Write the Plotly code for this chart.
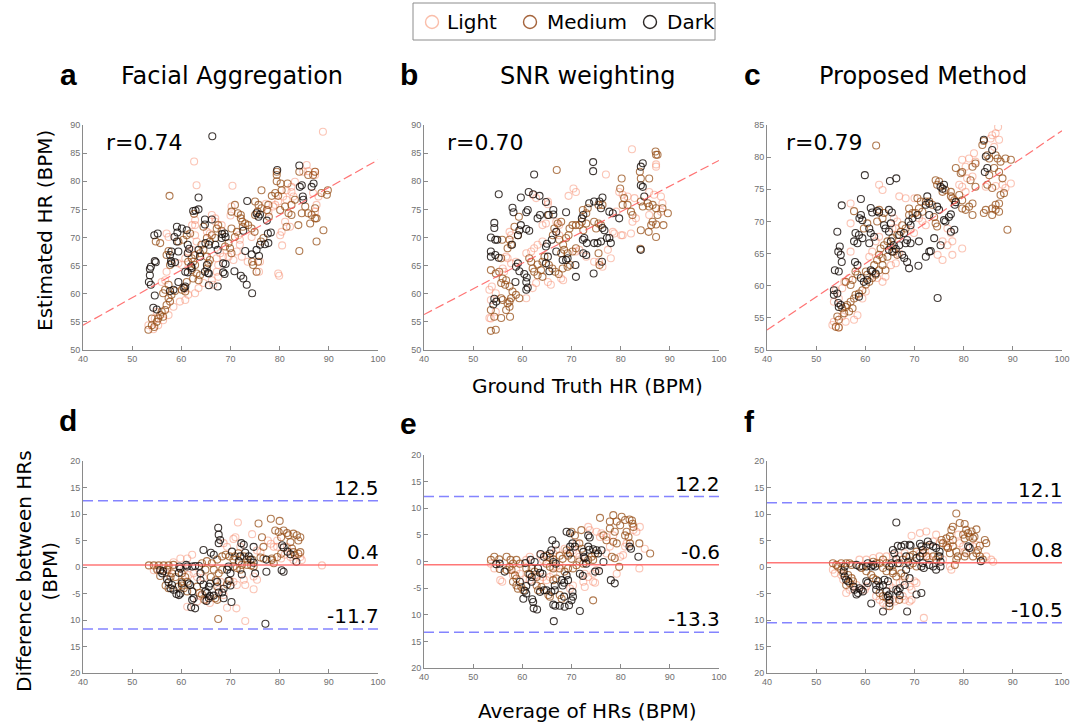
import plotly.graph_objects as go

# ---------------- data ----------------
GROUPS = ["Light", "Medium", "Dark"]
XTICKS = [40, 50, 60, 70, 80, 90, 100]
R_TEXT = ["r=0.74", "r=0.70", "r=0.79"]
TITLES = ["Facial Aggregation", "SNR weighting", "Proposed Method"]
LETTERS = ["a", "b", "c", "d", "e", "f"]
REG_X = [40, 100]
A_REG = [54.4, 83.8]
B_REG = [56.3, 83.7]
C_REG = [53.1, 84.1]
D_BA = [12.5, 0.4, -11.7]
E_BA = [12.2, -0.6, -13.3]
F_BA = [12.1, 0.8, -10.5]
BA_YTICKS = [20, 15, 10, 5, 0, -5, -10, -15, -20]
BA_YTEXT = ["20", "15", "10", "5", "0", "-5", "10", "15", "20"]

A_DARK = [(66.3,88.0),(63.5,77.1),(63.5,75.0),(62.4,74.7),(62.9,74.8),(64.8,73.2),(64.8,72.3),(66.2,73.2),
(55.2,70.7),(54.5,70.4),(59.1,71.9),(60.1,71.6),(61.1,71.3),(59.2,70.9),(58.6,70.1),(59.1,69.3),
(58.0,67.5),(59.4,67.5),(57.7,66.9),(61.3,68.7),(61.6,68.0),(61.3,67.2),(64.9,69.0),(65.6,68.7),
(68.8,70.7),(69.0,70.1),(72.6,71.2),(75.3,74.3),(75.7,73.7),(76.0,74.1),(77.6,70.7),(78.2,70.9),
(77.7,69.0),(77.0,68.8),(76.0,68.7),(73.0,67.6),(74.3,67.0),(75.3,67.8),(75.8,66.7),
(70.8,64.0),(72.1,63.2),(72.6,62.7),(74.4,60.1),(73.3,61.6),(68.5,65.4),(68.5,63.8),(68.8,63.5),
(67.4,61.3),(65.2,65.1),(64.8,63.9),(65.6,63.6),(60.8,63.9),(61.3,63.8),(62.1,64.6),(60.6,61.0),(60.8,61.3),
(53.8,64.8),(53.6,64.4),(54.6,65.8),(54.8,65.6),(53.6,63.3),(53.4,62.1),(53.8,61.6),(54.6,59.7),(54.3,57.5),(55.0,57.2),
(57.7,60.5),(58.4,60.7),(57.9,65.8),(58.0,65.4),(58.7,65.6),(59.4,62.1),(63.5,67.8),(63.8,66.6),(66.9,68.7),(67.4,67.8),
(68.2,69.9),(68.3,70.6),(84.5,79.3),(84.1,79.0),(86.5,79.0),(86.9,79.6),(84.7,77.3),(84.8,76.7),(84.0,82.8),
(73.4,76.5),(77.4,73.0),(79.5,82.0),(62.0,64.9),(65.4,63.7),(65.6,61.5),(69.0,65.3)]
A_MED = [(57.6,77.4),(62.6,74.2),(76.3,78.4),(78.4,77.4),(79.1,77.9),(79.4,81.7),(79.4,81.1),(79.4,80.0),
(81.6,79.6),(84.0,81.7),(85.8,81.1),(86.8,81.1),(87.2,81.7),(88.5,77.9),(89.6,77.6),(89.8,78.4),
(87.2,75.2),(86.5,74.0),(85.8,74.3),(87.2,73.4),(86.2,72.5),(87.5,73.4),(87.5,69.3),(84.0,67.6),(88.9,71.3),
(83.8,72.2),(82.4,74.0),(81.4,71.9),(84.5,74.3),(85.2,75.5),(80.1,74.9),(81.1,75.5),(81.8,74.3),(82.4,75.8),(83.1,76.7),
(80.2,79.6),(80.4,78.4),(79.7,77.4),(76.3,75.2),(75.7,75.8),(75.0,76.4),(75.5,74.6),(75.0,74.0),
(72.1,73.4),(72.4,72.8),(73.0,72.5),(72.5,71.9),(72.1,74.0),(71.3,71.0),(70.9,70.1),(70.2,71.6),
(69.6,69.0),(68.9,68.4),(69.9,68.1),(70.2,67.2),(67.2,71.6),(67.5,72.2),(68.2,71.2),
(66.9,69.9),(65.8,69.3),(66.2,70.4),(65.2,69.9),(64.1,68.7),(64.5,67.8),(63.8,67.2),(62.8,66.9),
(65.2,66.6),(65.8,66.0),(65.5,65.4),(65.2,64.5),(62.1,66.3),(62.4,65.7),(61.4,65.7),(62.8,65.1),(62.1,64.2),
(63.1,63.6),(63.8,63.3),(62.4,62.7),(63.5,62.4),(61.1,62.1),(60.4,61.1),(60.1,60.7),(60.8,60.4),
(58.7,60.5),(58.0,59.8),(57.4,59.2),(57.7,58.6),(57.0,58.0),(56.7,57.1),(56.0,56.8),(55.7,56.2),(56.3,55.9),(55.3,55.6),(55.0,55.0),
(54.0,55.6),(54.0,54.4),(54.5,54.1),(53.3,53.6),(56.3,60.1),(56.7,60.7),(57.4,61.6),
(57.4,67.6),(57.0,66.9),(57.7,65.1),(54.8,69.3),(55.7,69.0),(59.4,69.3),(60.4,69.6),(61.1,70.4),(61.8,70.7),
(64.5,71.9),(70.9,75.8),(71.5,74.3),(70.2,74.6),(73.6,72.2),(74.3,71.6),(74.9,71.0),
(77.7,75.8),(77.4,74.9),(77.8,73.7),(74.6,65.1),(74.4,65.7),(75.6,65.7),(75.3,63.9),(76.2,69.3),(76.7,69.9)]
A_LIGHT = [(88.8,88.8),(62.6,83.5),(63.1,79.3),(70.4,79.2),(70.2,75.5),(70.0,73.9),(66.2,74.0),(66.9,73.4),
(62.8,73.1),(62.2,72.2),(62.8,72.2),(57.0,70.7),(57.4,70.1),(79.7,63.6),(79.9,63.2),(75.8,63.9),(76.0,65.7),
(80.1,70.4),(80.4,71.0),(79.7,76.4),(80.7,77.3),(81.4,76.7),(81.4,78.4),(82.4,79.0),(83.1,79.9),
(85.5,82.9),(84.8,81.7),(85.8,81.8),(87.2,81.7),(87.2,81.1),(86.8,77.9),(87.9,77.3),(87.5,75.8),(87.2,74.6),
(82.4,78.1),(82.8,77.3),(82.1,71.9),(81.1,72.8),(78.7,75.5),(79.1,75.8),(77.2,76.0),(77.7,74.6),
(74.3,70.1),(71.9,69.6),(71.9,68.7),(71.6,70.4),(71.3,67.5),(72.3,66.6),(73.5,65.7),(69.6,66.6),(70.6,66.0),
(67.9,67.2),(68.5,66.6),(67.2,66.3),(67.5,65.1),(67.2,63.9),(67.5,63.0),(66.2,62.4),(66.5,61.6),
(64.5,61.9),(63.5,61.0),(62.8,60.1),(61.4,59.8),(60.8,58.9),(59.7,58.6),(58.4,57.7),(57.4,56.2),(56.3,55.3),
(55.3,54.4),(54.3,53.7),(53.3,54.4),(54.6,55.6),(55.0,56.8),(56.0,62.1),(56.7,62.4),(57.0,63.9),
(60.1,65.1),(60.8,66.3),(59.4,65.4),(61.4,67.5),(62.1,67.8),(63.1,69.3),(62.8,70.4),(65.2,71.0),(65.8,70.7),
(66.9,72.8),(68.2,72.2),(80.5,68.6)]

B_DARK = [(62.4,81.2),(55.2,77.7),(58.0,75.3),(58.2,74.5),(59.7,77.1),(61.3,78.1),(62.2,77.7),(63.5,77.4),(64.8,76.3),
(65.2,74.0),(66.3,74.1),(66.3,74.9),(68.9,74.5),(63.6,74.0),(63.1,73.4),(61.1,74.9),(60.8,74.5),
(59.7,72.2),(59.4,71.3),(60.8,71.5),(61.4,71.2),(59.1,70.4),(54.3,72.6),(54.3,71.7),(53.6,70.0),(54.5,69.6),(54.9,69.6),
(53.6,67.5),(54.5,66.9),(55.2,66.4),(53.6,66.6),(57.9,68.7),(59.1,65.4),(58.7,64.8),(59.4,64.0),
(60.4,63.5),(60.9,62.9),(60.8,62.1),(61.1,61.1),(60.8,60.7),(58.6,62.1),(54.3,59.1),(54.7,58.6),(54.1,58.1),
(65.0,68.9),(64.8,68.4),(65.2,66.6),(64.8,65.4),(65.5,64.0),(66.9,71.0),(66.0,69.6),(66.9,67.5),
(68.2,66.0),(68.9,66.0),(69.2,66.3),(70.9,63.0),(70.8,65.1),(72.4,74.0),(72.1,73.4),(72.6,69.9),(73.1,69.0),(72.3,69.6),
(72.4,67.2),(73.0,66.9),(74.5,63.6),(74.6,69.0),(75.3,69.0),(76.0,69.3),(76.2,65.7),(76.3,77.1),(75.7,76.4),(76.0,75.2),
(76.3,71.7),(76.7,71.3),(77.2,69.9),(77.7,69.9),(78.0,69.0),(77.7,74.6),(78.4,74.3),(73.6,76.1),(74.6,76.4),
(74.4,83.4),(74.4,81.8),(84.5,83.2),(84.1,82.6),(84.1,79.3),(84.5,79.0),(84.8,77.3),(79.7,73.4),(84.1,67.8)]
B_MED = [(67.0,82.0),(65.4,74.0),(58.4,71.9),(59.1,70.4),(57.4,69.6),(57.0,68.1),(57.7,68.7),(55.7,66.3),
(53.6,64.2),(54.6,63.6),(55.3,63.9),(56.0,62.7),(55.7,61.9),(56.7,62.4),(56.5,61.6),(57.4,61.3),
(58.0,60.4),(58.7,59.8),(59.4,59.2),(55.7,59.2),(56.0,58.9),(57.0,58.3),(57.7,59.2),(57.4,58.6),
(56.7,57.1),(57.4,57.7),(57.5,55.9),(55.7,55.7),(54.3,55.9),(53.6,57.1),(53.6,53.4),(54.6,53.6),
(61.4,66.3),(61.8,65.7),(62.1,64.5),(62.4,63.9),(63.1,63.3),(63.8,64.2),(64.1,63.0),(63.1,65.2),(64.1,65.7),(64.5,66.6),
(66.2,70.4),(66.5,71.6),(67.2,72.5),(67.9,72.8),(67.5,69.6),(68.3,68.7),(68.9,69.9),(69.4,70.4),
(69.6,71.6),(70.2,72.2),(70.9,72.2),(67.9,67.2),(68.5,67.8),(69.2,67.2),(71.6,72.2),(72.1,72.8),(73.0,72.5),(72.4,71.3),
(73.0,74.3),(73.3,75.2),(72.3,74.9),(75.0,71.6),(75.5,72.5),(76.0,72.2),(74.6,72.8),(76.3,75.8),(75.5,75.8),
(80.4,75.8),(80.7,77.0),(81.4,75.8),(82.1,74.6),(82.4,74.0),(84.1,76.4),(84.5,75.5),(85.5,76.1),(85.8,75.5),(86.5,75.8),
(87.2,84.7),(87.5,84.7),(87.1,85.3),(85.8,80.5),(84.1,80.5),(83.9,81.7),(87.2,75.2),(87.5,74.0),(86.5,72.8),(87.2,72.3),(86.2,72.2),
(88.5,75.2),(89.6,74.3),(88.7,72.2),(87.2,70.1),(84.1,71.3),(85.7,71.0),(80.2,80.5),(79.9,78.7),
(65.4,65.1),(66.1,64.5),(66.7,63.9),(67.4,63.5),(68.2,64.5),(69.2,64.8),(69.7,65.1),(70.2,67.5),(70.9,68.1),
(75.5,67.2),(75.7,65.1),(84.0,68.0),(59.3,73.7),(55.9,69.6)]
B_LIGHT = [(82.3,85.7),(87.2,82.6),(87.2,83.0),(77.0,81.2),(70.4,78.7),(70.9,78.1),(69.4,77.4),(65.2,76.4),(65.2,75.9),
(64.8,72.5),(64.1,72.2),(62.1,77.6),(62.8,77.0),(79.7,78.1),(80.4,77.6),(79.1,74.6),(80.4,70.4),(80.1,70.4),(82.1,70.7),
(78.4,71.0),(78.7,70.7),(78.0,66.3),(76.3,64.8),(74.6,65.7),(75.6,65.7),(73.0,66.6),(77.4,67.8),(70.9,67.5),(71.6,67.8),
(67.5,70.4),(66.9,71.0),(64.1,69.3),(63.1,68.7),(61.8,67.5),(62.4,68.1),(60.8,67.2),(58.7,65.7),(57.7,65.4),(57.0,66.3),(56.7,66.6),
(57.4,71.0),(57.7,70.4),(56.0,64.5),(56.3,63.9),(53.8,61.3),(53.3,60.7),(54.6,60.1),(53.6,58.9),(53.6,55.6),(53.3,55.7),(54.6,56.8),
(62.1,61.0),(62.8,61.9),(60.8,59.2),(65.2,62.1),(65.8,61.6),(67.9,62.7),(68.3,62.4),(67.5,72.2),(66.9,72.8),
(82.4,72.8),(83.1,73.4),(85.8,78.1),(86.8,77.6),(88.2,77.3),(88.5,76.1),(88.2,74.6),(85.8,74.0),(81.4,77.3),(82.8,77.0)]

C_DARK = [(74.7,58.1),(59.9,77.2),(65.0,76.3),(66.3,76.7),(55.2,72.5),(59.1,73.5),(84.1,82.7),(85.8,81.1),(84.5,80.1),(84.8,78.3),(84.3,77.7),
(75.3,75.4),(75.7,75.1),(76.0,75.7),(72.6,73.9),(73.0,72.8),(72.3,72.6),(69.6,70.5),(70.6,71.0),(68.8,70.0),(69.2,69.4),
(64.8,71.8),(65.4,71.4),(62.4,71.6),(62.8,71.4),(61.1,72.1),(61.4,71.4),(59.1,71.0),(58.8,70.5),(59.4,70.2),
(58.0,68.2),(57.7,66.9),(58.4,66.6),(58.7,67.9),(59.4,67.4),(60.8,68.9),(61.1,68.2),(61.8,67.6),(60.8,66.6),
(54.3,68.4),(54.8,66.1),(54.5,65.3),(55.0,64.8),(55.2,63.7),(53.8,62.4),(54.6,62.2),(53.6,59.3),(54.3,58.8),(53.6,58.6),
(54.5,57.3),(55.0,57.0),(54.6,56.7),(57.9,63.7),(58.4,63.2),(59.1,61.2),(59.7,60.6),(60.4,60.9),(58.7,58.3),
(61.1,62.4),(61.4,62.2),(62.1,61.9),(65.2,66.9),(65.8,66.3),(64.8,65.6),(65.5,65.3),(66.2,65.7),(66.9,66.3),
(66.9,67.9),(67.9,68.2),(67.5,64.8),(67.9,64.3),(68.5,63.7),(68.9,62.7),(68.5,67.1),(69.2,66.6),(68.2,66.6),
(70.8,63.1),(70.9,66.9),(73.0,65.3),(73.3,65.4),(72.3,64.5),(74.0,67.4),(76.3,70.0),(76.0,70.2),(75.3,66.3),
(77.4,68.4),(78.1,68.7),(77.0,70.7),(77.4,71.1),(78.2,72.6),(78.4,73.0),(74.6,72.3),(75.0,71.8),(73.0,71.0),
(63.8,69.4),(64.1,68.9),(64.8,68.4),(65.2,69.7)]
C_MED = [(62.2,81.8),(74.3,76.4),(75.0,76.2),(74.6,75.7),(75.7,74.6),(76.3,74.9),(77.4,74.6),(77.4,73.9),
(73.0,73.1),(73.6,72.6),(72.3,73.1),(70.9,72.0),(71.6,71.5),(70.2,71.3),(68.9,71.0),(69.6,71.3),
(67.5,69.4),(68.2,68.9),(67.2,68.4),(66.5,67.9),(65.5,67.4),(64.5,66.9),(63.8,66.3),(63.1,65.8),
(65.2,66.1),(65.8,65.3),(66.5,64.8),(64.5,64.5),(62.8,64.8),(63.5,64.3),(62.4,64.0),(61.8,63.2),
(63.5,63.2),(64.1,62.4),(62.8,62.4),(62.1,61.7),(61.4,61.2),(60.8,60.6),(60.1,60.2),(60.1,62.2),(60.4,61.7),
(59.4,59.3),(58.7,58.8),(58.0,58.6),(57.7,58.0),(57.0,57.5),(56.3,57.0),(56.0,56.7),(55.3,56.5),
(57.4,56.5),(56.7,56.0),(55.7,55.7),(54.3,55.2),(54.6,54.7),(54.0,53.6),(54.6,53.5),
(56.0,60.6),(57.0,60.1),(57.4,60.9),(58.0,62.2),(58.4,61.7),(57.7,71.6),(62.8,71.8),(63.8,71.3),(62.4,70.0),(63.5,70.5),
(59.7,68.9),(60.4,69.7),(70.6,73.6),(71.3,73.1),(68.9,72.0),(74.0,70.7),(74.3,69.7),(74.6,69.2),
(77.7,73.6),(78.1,73.3),(79.1,74.1),(79.7,73.3),(78.4,78.3),(79.4,77.5),(79.7,77.7),(81.8,78.5),(82.4,79.0),
(83.8,81.9),(84.1,82.5),(84.8,80.3),(85.2,79.8),(86.5,80.3),(86.9,79.8),(87.5,79.3),(88.5,79.8),(89.6,79.6),
(85.2,77.2),(86.2,78.3),(87.2,77.7),(87.9,76.7),(84.1,71.3),(84.5,71.8),(85.8,72.0),(86.5,71.8),
(87.2,72.8),(87.2,71.5),(86.5,72.6),(85.8,71.0),(87.5,74.1),(88.2,74.4),(81.8,72.8),(81.1,72.3),(81.8,71.0),(80.4,71.8),(79.7,72.0),
(88.9,68.7),(82.4,75.4),(81.4,76.4),(84.8,75.7),(85.8,75.2)]
C_LIGHT = [(87.0,84.7),(87.2,82.7),(86.5,83.7),(85.8,83.4),(62.8,75.7),(63.5,74.9),(66.9,73.9),(68.2,73.6),(57.0,72.8),(57.0,69.7),
(76.7,68.9),(77.4,68.2),(77.7,66.9),(77.7,64.8),(79.7,65.8),(74.7,64.8),(75.7,64.0),
(79.7,79.6),(81.1,79.8),(82.1,80.6),(82.4,79.3),(80.4,78.5),(80.7,76.7),(81.8,77.0),(79.1,75.7),(79.7,75.4),(80.4,74.6),
(85.5,82.9),(86.2,81.6),(87.9,75.7),(88.5,75.2),(89.6,75.9),(86.5,75.5),(84.5,75.4),
(70.9,70.5),(71.6,70.0),(72.3,69.4),(69.2,68.7),(69.9,68.2),(65.8,70.5),(66.5,70.0),(66.2,68.9),(65.5,68.9),
(62.8,67.6),(62.1,66.9),(61.4,65.3),(60.8,64.5),(62.4,61.2),(63.5,60.6),(64.1,61.4),(65.2,63.2),(66.2,63.5),
(60.1,59.1),(59.4,58.0),(57.0,65.3),(56.7,61.2),(55.7,60.6),(55.3,59.6),(54.0,59.3),(54.6,58.0),(53.6,57.5),
(53.3,53.9),(54.6,53.5),(53.6,54.4),(56.0,54.4),(55.3,55.2),(58.4,55.4),(57.7,54.7),(66.9,65.0),(75.7,66.9),(76.7,66.3),
(70.0,73.6)]

D_DARK = [(67.5,7.4),(67.6,6.1),(67.9,5.1),(67.6,4.5),(64.5,3.2),(66.0,2.7),(66.6,2.3),(70.3,2.9),
(72.2,4.5),(72.7,4.2),(73.0,2.7),(72.0,2.0),(74.7,3.8),(73.7,2.0),(74.1,1.4),(74.7,0.8),(75.0,-1.2),
(77.3,1.4),(77.3,-0.9),(80.5,4.1),(80.8,3.7),(80.8,-0.9),(80.4,-0.6),(81.6,2.9),(82.2,2.4),(83.4,1.0),
(69.3,-0.5),(70.0,-1.2),(69.6,0.1),(69.6,-2.6),(70.0,-3.5),(68.6,-4.1),(68.3,-4.8),(68.6,-5.9),(70.2,-6.6),
(67.6,-4.8),(66.6,-5.4),(67.3,-2.8),(65.9,-3.1),(65.6,-3.7),(64.5,-3.3),(64.9,-4.6),(65.2,-4.9),
(65.8,-5.5),(65.6,-5.9),(65.1,-6.4),(62.5,-5.9),(62.2,-6.2),(62.0,-7.6),(62.8,-7.8),
(61.8,-3.4),(62.2,-4.6),(61.5,-3.1),(60.1,-3.1),(59.8,-5.0),(59.5,-5.3),(59.0,-5.1),(58.4,-4.3),(57.8,-4.0),
(57.1,-2.3),(57.4,-2.9),(58.1,-3.4),(56.1,-1.2),(56.3,-0.8),(55.7,-0.6),(59.5,-1.1),(59.8,-0.3),
(61.2,0.1),(62.2,0.1),(62.8,0.2),(61.0,0.4),(63.9,-1.2),(63.9,-2.5),(72.3,-1.4),(71.7,1.1),(77.1,-10.7),
(59.6,0.1),(63.6,0.2)]
D_MED = [(53.4,0.3),(54.4,0.3),(55.4,0.3),(56.4,0.3),(57.4,0.3),(58.4,0.4),(57.1,-0.5),(58.1,-1.2),(58.8,-1.9),(57.8,-1.9),
(60.1,-1.2),(60.8,-1.9),(60.1,-2.8),(61.2,-2.8),(60.5,-4.0),(61.2,-4.6),(63.2,-3.7),(63.7,-4.9),
(64.2,0.7),(65.2,1.1),(66.2,0.7),(67.3,1.4),(64.9,-0.5),(66.6,-0.5),(67.6,-1.2),(68.3,-0.5),(66.0,-1.9),(67.0,-2.5),
(68.3,2.0),(69.0,2.3),(69.8,2.0),(70.6,1.4),(70.9,2.0),(71.6,2.6),(72.7,2.0),(73.4,1.4),(74.4,1.4),(72.3,0.4),
(73.4,0.4),(74.2,0.3),(74.7,0.1),(70.6,0.1),(71.3,-0.2),(72.0,-0.5),
(75.7,8.2),(78.2,9.1),(80.0,8.7),(79.1,6.9),(79.8,6.6),(80.3,5.6),(80.8,6.9),(81.5,6.4),(81.8,6.0),(82.8,6.3),
(83.5,6.0),(84.2,5.6),(83.8,5.0),(82.2,4.7),(82.5,3.5),(82.8,2.8),(83.1,2.2),(83.8,2.5),(84.2,2.8),
(80.3,2.5),(79.5,1.9),(78.4,1.6),(78.4,1.3),(78.8,0.7),(76.4,5.6),(76.7,3.8),(76.1,1.8),(76.7,1.6),
(69.8,-2.6),(69.3,-3.3),(67.5,-9.8),(67.3,-6.2),(66.9,-5.9),(67.3,-3.7),(64.2,-5.2),(64.7,-6.2),(60.1,-3.5),(59.4,-3.7),
(55.1,-0.5),(55.7,-1.7),(56.8,-3.5),(57.4,-4.0)]
D_LIGHT = [(88.6,0.3),(71.5,8.4),(73.0,-10.2),(69.3,-7.7),(71.2,-7.8),(74.7,-4.2),(74.4,6.2),(70.6,5.3),(71.0,5.6),(72.0,3.8),
(68.6,4.5),(69.3,3.8),(77.6,5.0),(78.2,4.4),(78.8,3.8),(75.4,3.1),(76.1,2.8),(79.5,5.0),(79.5,3.8),
(84.2,1.9),(84.5,1.3),(81.5,3.8),(82.2,1.9),(82.8,1.3),(80.3,1.6),(81.0,2.3),
(74.7,-1.8),(75.4,-2.4),(72.7,-2.4),(73.0,-3.4),(70.6,-2.8),(71.3,-3.4),(68.0,-2.8),(67.6,-4.3),(68.6,-5.3),
(65.8,-6.8),(65.2,-6.2),(63.2,-6.5),(63.9,-5.5),(61.2,-7.5),(60.5,-0.5),(61.5,-1.5),(57.1,-1.2),(57.4,-0.5),
(58.4,0.9),(59.8,1.6),(61.2,1.6),(62.2,2.3),(55.1,-0.3),(54.4,-0.6),(62.5,-1.2),(63.2,-1.9),(64.5,-2.0)]

E_DARK = [(66.4,-11.2),(71.7,-9.3),(67.6,-8.3),(68.6,-8.5),(66.3,-8.1),(66.7,-8.3),(69.5,-8.2),(70.0,-7.3),(70.3,-6.6),(70.2,-5.7),
(68.5,-6.6),(66.6,-4.5),(66.6,-5.4),(65.9,-5.7),(64.9,-5.4),(64.4,-5.4),(63.6,-5.7),(63.0,-9.0),(62.3,-8.8),
(62.0,-7.1),(62.2,-7.6),(60.5,-5.5),(60.8,-6.0),(60.2,-7.0),(59.5,-3.8),(60.8,-4.6),(61.5,-2.4),(61.9,-2.9),(61.9,-3.8),
(63.2,-1.3),(63.6,-2.1),(64.1,-2.3),(56.4,-1.9),(54.7,-0.5),(55.4,-0.4),(60.6,-0.3),(61.7,0.3),(62.5,-0.1),
(63.7,1.4),(64.4,0.9),(65.6,1.5),(65.9,2.1),(66.3,-0.1),(66.8,-0.4),(68.0,-3.5),(68.5,-4.0),(68.2,-4.5),
(69.0,-2.6),(69.3,-3.5),(66.1,4.0),(66.8,3.2),(69.0,5.6),(69.7,5.3),(70.2,3.4),(70.7,2.8),(69.7,2.8),(69.7,1.5),
(72.4,1.8),(72.5,0.9),(73.4,4.9),(73.7,4.5),(73.4,2.8),(73.6,2.2),(72.7,0.6),(73.0,-0.4),(75.1,2.1),(75.4,1.5),
(76.1,2.1),(76.5,-0.1),(75.6,-1.8),(74.8,-1.9),(71.7,-2.3),(72.3,-2.7),(78.0,-3.5),(78.8,-4.1),(83.6,0.9),
(81.8,2.8),(82.1,2.4),(74.4,2.3)]
E_MED = [(75.8,8.2),(78.5,8.7),(80.2,8.4),(80.9,7.8),(81.8,7.9),(82.3,7.7),(82.4,7.1),(82.6,6.5),(77.8,7.5),(79.2,7.5),(79.9,6.8),
(77.8,6.2),(78.8,5.6),(81.2,5.6),(80.9,4.9),(81.6,4.6),(81.9,3.4),(76.5,4.9),(77.1,4.0),(78.5,3.7),(79.2,3.4),
(78.2,0.9),(78.8,0.6),(79.7,-1.0),(86.0,1.5),(83.8,3.4),(74.4,-7.3),(70.0,5.6),(70.7,4.9),(72.0,5.9),(71.6,3.4),(72.1,2.4),
(69.0,2.1),(69.3,1.1),(70.0,0.5),(67.6,1.1),(68.2,0.5),(64.9,1.1),(65.6,0.7),(66.3,0.4),(64.9,-0.4),(65.6,-1.0),(66.3,-1.3),
(67.6,-1.3),(68.6,-1.9),(69.3,-1.3),(70.3,-1.3),(71.0,-0.7),(71.6,0.0),(72.4,-0.4),(73.4,0.3),(74.1,0.9),(74.4,0.3),(74.8,1.5),
(53.6,0.3),(54.3,0.9),(55.3,0.4),(56.8,0.9),(57.6,0.3),(58.1,-0.4),(58.8,0.3),(59.5,-0.4),(57.4,-1.0),(57.8,-1.6),
(58.5,-2.6),(58.8,-3.2),(58.1,-3.8),(58.8,-4.5),(59.1,-5.1),(59.8,-4.8),(60.2,-5.4),(56.8,-1.6),(55.4,-1.4),
(62.9,-4.5),(63.2,-5.4),(63.9,-4.8),(65.3,-6.3),(65.6,-6.6),(67.6,-6.3),(68.0,-7.0),(66.9,-3.2),(66.3,-3.5),
(61.9,-1.3),(62.5,-1.9),(62.9,-2.9),(60.8,-1.3),(61.2,-2.3)]
E_LIGHT = [(73.4,6.5),(73.7,5.9),(75.1,5.6),(76.1,5.3),(75.8,4.6),(77.1,4.6),(78.5,4.9),(82.6,5.9),(83.2,5.6),(83.9,6.5),
(83.8,-1.3),(84.9,2.4),(81.2,3.4),(80.9,2.8),(79.2,-2.3),(79.9,0.9),(80.5,1.2),(77.8,2.8),(77.1,1.5),
(74.4,-3.8),(74.8,-4.0),(73.4,-2.9),(72.7,-2.3),(71.6,0.9),(71.0,1.5),(70.3,2.1),(71.0,3.4),(69.0,1.5),(68.6,2.4),
(66.9,-1.0),(67.6,-0.7),(66.3,-2.3),(65.6,-2.9),(64.9,-3.5),(64.2,-2.9),(63.6,-3.5),(62.9,-2.6),(61.5,-3.5),(60.8,-3.2),
(59.5,-2.3),(58.8,-1.6),(58.1,-2.6),(55.9,-3.8),(55.5,-3.5),(53.6,-0.4),(54.3,-1.3),(60.8,0.3),(61.5,0.9),
(64.2,0.3),(63.6,1.2),(66.3,1.5),(66.9,2.1),(74.4,-2.3),(75.1,-1.6),(72.7,-4.8),(72.4,-3.8),(70.3,-4.5),(69.7,-5.1)]

F_DARK = [(66.3,8.4),(61.2,-6.9),(63.6,-8.4),(68.5,-8.4),(70.4,-5.2),(71.4,-4.9),(68.0,-3.4),(67.0,-4.0),(66.3,-4.3),(66.6,-4.6),(67.0,-5.3),
(64.9,-5.2),(64.6,-5.5),(64.3,-4.6),(64.9,-6.2),(64.9,-6.8),(63.6,-3.4),(62.9,-3.7),(62.2,-4.3),(62.2,-3.4),(62.6,-2.7),
(63.9,-2.4),(64.6,-2.7),(59.5,-4.6),(59.2,-4.3),(58.8,-4.0),(57.8,-4.3),(58.5,-4.9),(57.6,-3.7),(58.2,-5.2),
(55.6,-0.8),(55.8,-1.8),(56.1,-2.4),(56.5,-2.7),(55.8,0.1),(58.2,0.4),(58.8,0.1),(60.2,0.1),(60.5,0.7),(61.2,0.1),
(61.6,0.4),(62.0,0.1),(60.2,-2.7),(60.5,-3.0),(64.9,0.1),(65.3,0.7),(65.6,3.2),(65.9,2.6),(66.6,4.0),(67.3,3.9),(68.0,4.2),(69.0,4.2),
(69.2,4.0),(66.3,1.5),(66.6,0.7),(68.3,2.0),(68.7,1.0),(71.1,4.4),(71.4,3.9),(71.7,3.2),(72.7,4.8),(73.1,4.2),
(73.8,3.9),(74.4,3.6),(75.1,2.9),(75.1,2.0),(75.3,1.0),(75.3,0.1),(73.0,0.4),(73.8,0.1),(74.4,-0.5),(71.4,0.1),(71.7,0.7),
(70.4,1.7),(71.1,2.0),(80.9,3.9),(81.2,3.6),(83.5,1.1),(69.0,-2.1),(68.3,-0.5),(71.9,-0.2)]
F_MED = [(78.5,10.1),(79.2,8.3),(80.2,8.1),(77.8,7.6),(77.5,7.0),(80.5,7.0),(80.9,6.4),(81.6,6.7),(82.6,7.1),(79.9,6.1),(80.2,5.4),
(81.2,5.7),(81.9,5.4),(82.2,5.7),(76.5,5.4),(77.2,5.8),(77.8,5.1),(84.3,5.1),(84.6,4.5),(83.3,4.0),(82.9,3.2),
(82.6,2.6),(81.9,2.0),(80.5,2.6),(80.2,2.0),(78.5,2.9),(78.8,2.0),(77.2,2.6),(76.8,3.6),(77.8,3.9),(78.2,0.4),(78.5,1.4),
(83.3,2.0),(83.9,1.4),(75.5,5.1),(75.8,4.5),(76.5,3.9),(72.4,3.9),(71.7,2.6),(72.4,2.0),(73.8,2.0),(74.4,1.4),(74.8,2.0),
(70.4,2.9),(69.7,2.3),(69.0,2.0),(69.7,0.7),(70.4,0.1),(69.0,0.4),(67.6,1.4),(67.0,0.7),(65.6,0.4),(64.3,0.7),(63.6,1.4),(62.9,0.7),
(63.6,-0.2),(64.3,-0.8),(65.6,-0.8),(62.2,0.7),(61.6,1.0),(59.5,0.1),(59.2,-0.2),(60.2,-0.8),
(57.2,0.4),(56.8,0.7),(56.1,0.7),(55.1,0.7),(54.1,0.4),(53.4,0.7),(54.4,0.1),(55.1,-0.5),(55.5,-1.2),(56.5,-1.5),(57.2,-2.1),
(57.5,-2.7),(56.8,-3.0),(56.1,-3.4),(61.2,-1.5),(61.6,-2.1),(62.2,-2.4),(62.9,-4.9),(63.6,-5.5),(64.3,-5.8),
(67.3,-1.2),(68.0,-1.8),(65.6,-1.2),(66.3,-1.8),(64.9,-7.4),(66.9,-6.2)]
F_LIGHT = [(71.9,-9.6),(69.4,5.9),(71.1,6.4),(72.4,6.7),(74.4,6.1),(73.8,4.8),(75.1,4.5),(76.8,3.6),(77.2,4.5),(79.9,3.9),(80.2,2.9),
(84.6,2.0),(85.6,1.4),(86.0,1.0),(78.9,6.1),(79.2,4.5),(81.9,3.9),(82.6,4.2),(70.0,-2.7),(70.4,-3.0),(69.0,-3.7),(69.4,-4.3),
(69.4,-6.2),(69.0,-6.5),(67.6,-5.5),(68.0,-6.2),(65.6,-6.2),(66.0,-6.5),(64.3,-7.4),(62.9,-6.2),(63.6,-6.8),(62.2,-5.5),
(60.2,-3.7),(59.9,-4.3),(58.2,-3.4),(57.5,-3.7),(56.8,-4.3),(56.1,-4.9),(55.5,-2.4),(55.1,-1.5),(53.8,-1.2),(53.4,-0.5),
(58.8,1.4),(60.2,1.4),(61.6,1.7),(62.9,2.0),(64.3,2.0),(65.6,2.3),(67.0,2.0),(68.0,2.6),(71.1,2.6),(72.1,2.9),
(72.7,2.0),(73.1,1.4),(74.4,0.7),(75.8,1.4),(77.2,0.1),(77.5,-0.5),(67.0,-3.0),(67.6,-2.7),(64.9,-3.4),(65.6,-4.0)]

# ---------------- styling ----------------
W, H = 1070, 727
COLORS = {"Light": "rgba(248,140,110,0.5)", "Medium": "rgba(150,78,22,0.75)", "Dark": "rgba(22,14,10,0.82)"}
LEG_COLORS = {"Light": "rgb(250,190,170)", "Medium": "rgb(165,100,60)", "Dark": "rgb(45,40,38)"}
TEXT_FONT = "DejaVu Sans"
TICK_FONT = dict(family="Liberation Sans", size=9, color="#6f6f6f")
AX_COL = "#8a8a8a"

def fx(p):
    return p / W

def fy(p):
    return 1 - p / H

panels = [
    dict(x=(83, 378), y=(125, 350), yr=(50, 90), data=[A_LIGHT, A_MED, A_DARK], reg=A_REG),
    dict(x=(424, 719), y=(125, 350), yr=(50, 90), data=[B_LIGHT, B_MED, B_DARK], reg=B_REG),
    dict(x=(767, 1062), y=(125, 350), yr=(50, 85), data=[C_LIGHT, C_MED, C_DARK], reg=C_REG),
    dict(x=(83, 378), y=(461, 673), yr=(-20, 20), data=[D_LIGHT, D_MED, D_DARK], ba=D_BA),
    dict(x=(424, 719), y=(455, 668), yr=(-20, 20), data=[E_LIGHT, E_MED, E_DARK], ba=E_BA),
    dict(x=(767, 1062), y=(461, 673), yr=(-20, 20), data=[F_LIGHT, F_MED, F_DARK], ba=F_BA),
]

fig = go.Figure()
layout = dict(width=W, height=H, margin=dict(l=0, r=0, t=0, b=0, autoexpand=False),
              paper_bgcolor="white", plot_bgcolor="white", showlegend=False)
annotations = []
shapes = []

for i, p in enumerate(panels):
    n = i + 1
    xa = "x" if n == 1 else f"x{n}"
    ya = "y" if n == 1 else f"y{n}"
    for g, pts in zip(GROUPS, p["data"]):
        fig.add_trace(go.Scatter(
            x=[q[0] for q in pts], y=[q[1] for q in pts], mode="markers", xaxis=xa, yaxis=ya,
            showlegend=False, name=g,
            marker=dict(symbol="circle-open", size=7, color=COLORS[g], line=dict(width=1.1))))
    if "reg" in p:
        fig.add_trace(go.Scatter(x=REG_X, y=p["reg"], mode="lines", xaxis=xa, yaxis=ya, showlegend=False,
                                 line=dict(color="rgba(255,90,90,0.85)", width=1.2, dash="9px,4px")))
        yt = list(range(p["yr"][0], p["yr"][1] + 1, 5))
        ytt = [str(v) for v in yt]
    else:
        up, mean, lo = p["ba"]
        for v, dash, col in [(up, "10px,5px", "rgba(110,110,255,0.85)"), (mean, "solid", "rgba(255,95,95,0.85)"),
                             (lo, "10px,5px", "rgba(110,110,255,0.85)")]:
            fig.add_trace(go.Scatter(x=REG_X, y=[v, v], mode="lines", xaxis=xa, yaxis=ya, showlegend=False,
                                     line=dict(color=col, width=1.5, dash=dash)))
            annotations.append(dict(x=100, y=v, xref=xa, yref=ya, text=f"{v:.1f}", showarrow=False,
                                    xanchor="right", yanchor="bottom", xshift=3, yshift=-1,
                                    font=dict(family=TEXT_FONT, size=20, color="black")))
        yt = BA_YTICKS
        ytt = BA_YTEXT
    axkey_x = "xaxis" if n == 1 else f"xaxis{n}"
    axkey_y = "yaxis" if n == 1 else f"yaxis{n}"
    layout[axkey_x] = dict(domain=[fx(p["x"][0]), fx(p["x"][1])], anchor=ya, range=[40, 100],
                           tickvals=XTICKS, showline=True, linecolor=AX_COL, linewidth=1, ticks="inside",
                           ticklen=4, tickcolor=AX_COL, showgrid=False, zeroline=False, tickfont=TICK_FONT,
                           automargin=False, fixedrange=True)
    layout[axkey_y] = dict(domain=[fy(p["y"][1]), fy(p["y"][0])], anchor=xa, range=list(p["yr"]),
                           tickvals=yt, ticktext=ytt, showline=True, linecolor=AX_COL, linewidth=1,
                           ticks="inside", ticklen=4, tickcolor=AX_COL, showgrid=False, zeroline=False,
                           tickfont=TICK_FONT, automargin=False, fixedrange=True)

def txt(x, y, s, size, bold=False, xanchor="center", angle=0, family=TEXT_FONT):
    annotations.append(dict(x=fx(x), y=fy(y), xref="paper", yref="paper", text=f"<b>{s}</b>" if bold else s,
                            showarrow=False, xanchor=xanchor, yanchor="middle", textangle=angle,
                            font=dict(family=family, size=size, color="black")))

# legend box drawn by hand (MATLAB style)
shapes.append(dict(type="rect", xref="paper", yref="paper", x0=fx(413), x1=fx(715), y0=fy(40), y1=fy(3),
                   line=dict(color="#8c8c8c", width=1), fillcolor="white"))
for g, cx, tx in zip(GROUPS, [432, 530, 650], [445, 545, 665]):
    shapes.append(dict(type="circle", xref="paper", yref="paper", xsizemode="pixel", ysizemode="pixel",
                       xanchor=fx(cx), yanchor=fy(22), x0=-6.5, x1=6.5, y0=-6.5, y1=6.5,
                       line=dict(color=LEG_COLORS[g], width=1.4)))
    txt(tx, 22, g, 20, xanchor="left")

letter_pos = [(68, 75), (409, 75), (752, 75), (68, 420), (408, 423), (749, 421)]
for L, (x, y) in zip(LETTERS, letter_pos):
    txt(x, y, L, 30, bold=True, family="Liberation Sans")
for t, x in zip(TITLES, [232, 588, 923]):
    txt(x, 76, t, 24)
for r, x in zip(R_TEXT, [104, 445, 784]):
    txt(x, 142, r, 22, xanchor="left")
txt(45, 231, "Estimated HR (BPM)", 20, angle=-90)
txt(37, 571, "Difference between HRs<br>(BPM)", 20, angle=-90)
txt(587, 386, "Ground Truth HR (BPM)", 20)
txt(587, 711, "Average of HRs (BPM)", 20)

layout["annotations"] = annotations
layout["shapes"] = shapes
fig.update_layout(**layout)
fig.write_html("out.html", config={"displayModeBar": False, "staticPlot": True},
               post_script="document.body.style.margin='0px';document.body.style.overflow='hidden';")
